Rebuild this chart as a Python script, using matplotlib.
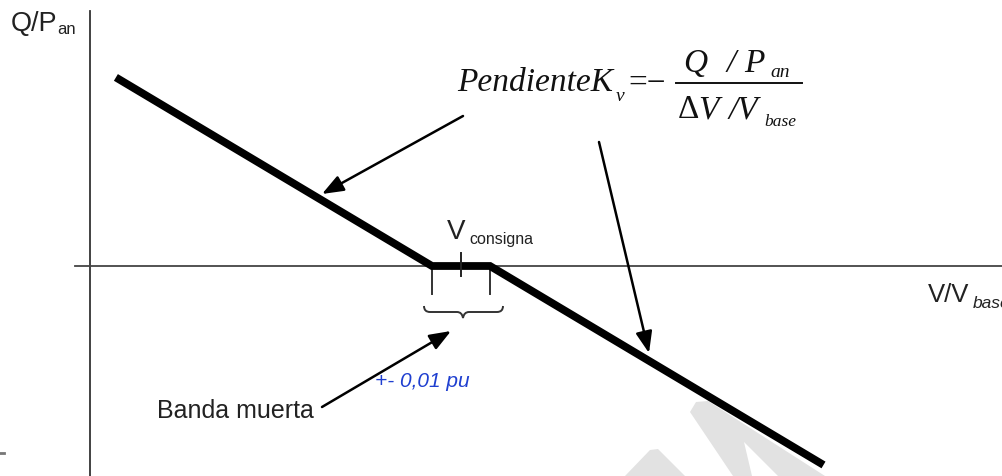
import numpy as np
import matplotlib.pyplot as plt
from matplotlib.patches import FancyArrowPatch, Polygon, PathPatch
from matplotlib.path import Path

# característica Q-V con banda muerta (valores en pu)
v_consigna = 1.00
banda = 0.01
v_curva = [0.881, 0.990, 1.010, 1.125]
q_curva = [0.545, 0.0, 0.0, -0.575]

# escala del dibujo: pixeles por pu en cada eje y posicion del origen
PX_V = 2900.0
PX_Q = 346.0
X0, Y0 = 461.0, 267.0
W, H = 1003, 477


def d(px, py):
    # pixel de la imagen -> coordenadas (V, Q)
    return v_consigna + (px - X0) / PX_V, (Y0 - py) / PX_Q


fig = plt.figure(figsize=(W / 100, H / 100), dpi=100)
ax = fig.add_axes([0, 0, 1, 1])
x_a, y_a = d(0, H)
x_b, y_b = d(W, 0)
ax.set_xlim(x_a, x_b)
ax.set_ylim(y_a, y_b)
ax.axis('off')

sans = 'Liberation Sans'
serif = 'Liberation Serif'
tinta = '#222222'

# marca de agua gris de fondo
for pts in ([(625, 477), (650, 451), (658, 450), (685, 477)],
            [(690, 413), (696, 403), (708, 402), (825, 477), (778, 477),
             (744, 443), (752, 477), (733, 477)]):
    ax.add_patch(Polygon([d(*p) for p in pts], closed=True, fc='#e2e2e2',
                         ec='none', zorder=0))
ax.plot(*zip(d(0, 454), d(4, 454)), color='#777777', lw=2, zorder=1)

# ejes
ax.plot(*zip(d(90, 12), d(90, H)), color='#333333', lw=1.3, zorder=2)
ax.plot(*zip(d(75, Y0), d(W, Y0)), color='#444444', lw=1.3, zorder=2)

# curva
ax.plot(v_curva, q_curva, color='black', lw=5.6, solid_capstyle='butt',
        solid_joinstyle='miter', zorder=5)

# marca de V consigna y limites de la banda muerta
ax.plot([v_consigna, v_consigna], [d(0, 254)[1], d(0, 277)[1]],
        color=tinta, lw=1.4, zorder=6)
for v in (v_consigna - banda, v_consigna + banda):
    ax.plot([v, v], [0, d(0, 295)[1]], color='#333333', lw=1.4, zorder=4)

# llave bajo la banda
xl, xr, yb, xc = 424, 503, 313, 463
verts = [(xl, 307), (xl, yb), (xl + 6, yb),
         (xc - 6, yb), (xc - 1, yb), (xc, 319),
         (xc + 1, yb), (xc + 6, yb),
         (xr - 6, yb), (xr, yb), (xr, 307)]
codes = [Path.MOVETO, Path.CURVE3, Path.CURVE3,
         Path.LINETO, Path.CURVE3, Path.CURVE3,
         Path.CURVE3, Path.CURVE3,
         Path.LINETO, Path.CURVE3, Path.CURVE3]
ax.add_patch(PathPatch(Path([d(*p) for p in verts], codes), fc='none',
                       ec='#333333', lw=1.4, zorder=4))

# flechas
for a, b in (((463, 117), (322, 195)),
             ((599, 143), (649, 354)),
             ((322, 408), (451, 332))):
    ax.add_patch(FancyArrowPatch(d(*a), d(*b),
                                 arrowstyle='-|>,head_length=13,head_width=5',
                                 mutation_scale=1, lw=1.8, color='black',
                                 shrinkA=0, shrinkB=0, zorder=6))

# textos de los ejes
ax.text(*d(11, 31), 'Q/P', family=sans, fontsize=19.5, color=tinta)
ax.text(*d(57, 34), 'an', family=sans, fontsize=12, color=tinta)
ax.text(*d(928, 302), 'V/V', family=sans, fontsize=18.5, color=tinta)
ax.text(*d(973, 308), 'base', family=sans, style='italic', fontsize=12.5,
        color=tinta)
ax.text(*d(447, 239), 'V', family=sans, fontsize=20, color=tinta)
ax.text(*d(469, 244), 'consigna', family=sans, fontsize=11.5, color=tinta)
ax.text(*d(157, 418), 'Banda muerta', family=sans, fontsize=18, color=tinta)
ax.text(*d(375, 387), '+- 0,01 pu', family=sans, style='italic', fontsize=15,
        color='#1f3fd0')

# expresion de la pendiente
fs = 24
tx = '#111111'
ax.text(*d(457, 91), 'PendienteK', family=serif, style='italic', fontsize=fs,
        color=tx)
ax.text(*d(616, 101), 'v', family=serif, style='italic', fontsize=14, color=tx)
ax.text(*d(628, 92), '=\u2212', family=serif, fontsize=fs, color=tx)
ax.plot(*zip(d(676, 84), d(802, 84)), color=tx, lw=1.4)
ax.text(*d(683, 72), 'Q', family=serif, style='italic', fontsize=fs, color=tx)
ax.text(*d(727, 72), '/', family=serif, style='italic', fontsize=fs, color=tx)
ax.text(*d(744, 72), 'P', family=serif, style='italic', fontsize=fs, color=tx)
ax.text(*d(770, 77), 'an', family=serif, style='italic', fontsize=14, color=tx)
ax.text(*d(678, 118), '\u0394', family=serif, fontsize=fs, color=tx)
ax.text(*d(698, 118), 'V', family=serif, style='italic', fontsize=fs, color=tx)
ax.text(*d(729, 118), '/V', family=serif, style='italic', fontsize=fs, color=tx)
ax.text(*d(764, 126), 'base', family=serif, style='italic', fontsize=12.5,
        color=tx)

fig.savefig('out.png', dpi=100)
